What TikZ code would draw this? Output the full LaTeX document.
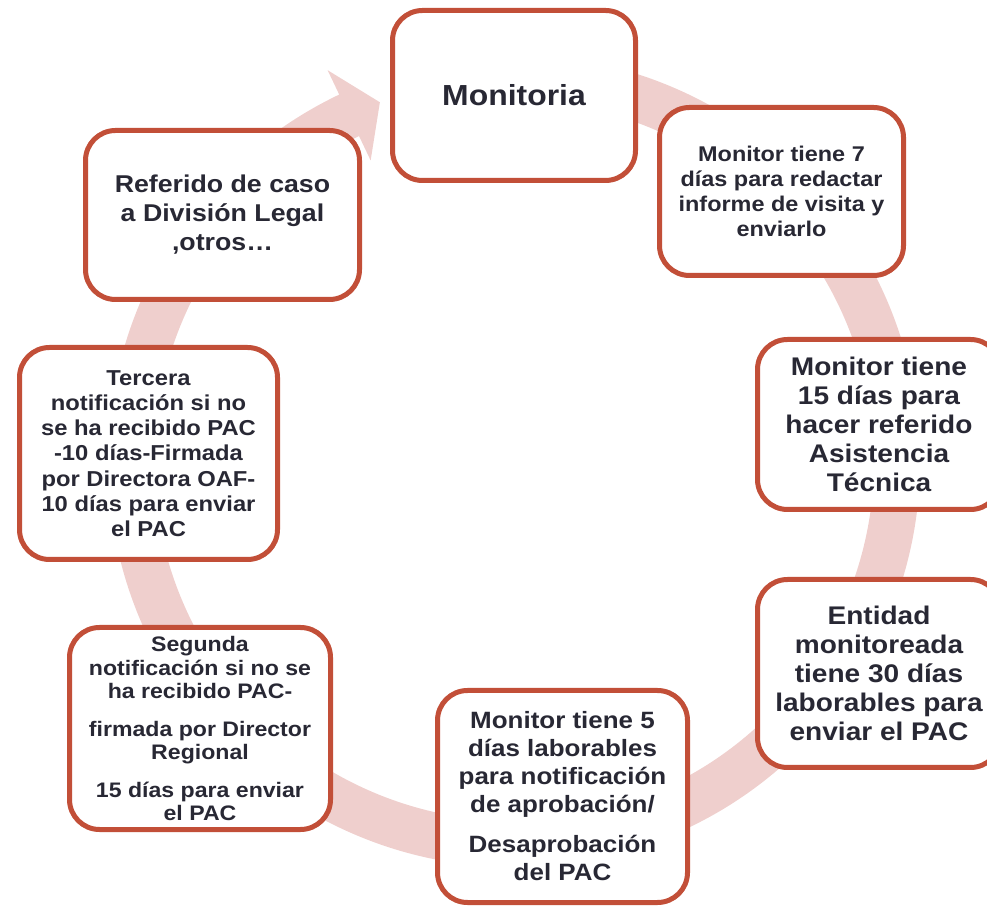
\documentclass[tikz,border=0pt]{standalone}
\usepackage{fontspec}
\setmainfont{Liberation Sans}[FakeStretch=1.1]
\usepackage{xcolor}
\usepackage{tikz}
\definecolor{boxred}{HTML}{C24F38}
\definecolor{ringpink}{HTML}{EFCFCD}
\definecolor{txtdark}{HTML}{282834}
\tikzset{
  stepbox/.style={draw=boxred, fill=white, line width=5pt, rounded corners=30pt, inner sep=0pt, align=center, text=txtdark},
}
\def\fsz#1#2{\fontsize{#1}{#2}\selectfont\bfseries}

\begin{document}
\begin{tikzpicture}[x=1pt, y=1pt]

   \clip (0,0) rectangle (987,910);

   % ring with arrow head
   \begin{scope}[shift={(514,449)}]
      \fill[ringpink] (100:406) arc[start angle=100, end angle=-244.5, radius=406] -- (115.5:433) -- (110.5:383) -- (115.5:333) -- (115.5:360) arc[start angle=-244.5, end angle=100, radius=360] -- cycle;
   \end{scope}

   \node[stepbox, minimum width=243, minimum height=170, font={\fsz{29}{34}}] (mon) at (514,814.5) {Monitoria};
   \node[stepbox, minimum width=244, minimum height=168, font={\fsz{21.3}{25}}] (redact) at (781.5,718.5) {Monitor tiene 7\\días para redactar\\informe de visita y\\enviarlo};
   \node[stepbox, minimum width=243, minimum height=170, font={\fsz{25.5}{29}}] (referir) at (879,485.5) {Monitor tiene\\15 días para\\hacer referido\\Asistencia\\Técnica};
   \node[stepbox, minimum width=243, minimum height=188, font={\fsz{25.5}{29}}] (entidad) at (879,236.5) {Entidad\\monitoreada\\tiene 30 días\\laborables para\\enviar el PAC};
   \node[stepbox, minimum width=250, minimum height=212, font={\fsz{23.6}{28}}] (aprob) at (562.5,113.5) {Monitor tiene 5\\días laborables\\para notificación\\de aprobación/\\[12pt]Desaprobación\\del PAC};
   \node[stepbox, minimum width=261, minimum height=202, font={\fsz{21}{23.5}}] (segunda) at (200,181.5) {Segunda\\notificación si no se\\ha recibido PAC-\\[14pt]firmada por Director\\Regional\\[14pt]15 días para enviar\\el PAC};
   \node[stepbox, minimum width=258, minimum height=212, font={\fsz{21.6}{25.2}}] (tercera) at (148.5,456.5) {Tercera\\notificación si no\\se ha recibido PAC\\-10 días-Firmada\\por Directora OAF-\\10 días para enviar\\el PAC};
   \node[stepbox, minimum width=274, minimum height=169, font={\fsz{24.3}{29}}] (referido) at (222.5,695) {Referido de caso\\a División Legal\\,otros…};

\end{tikzpicture}
\end{document}
